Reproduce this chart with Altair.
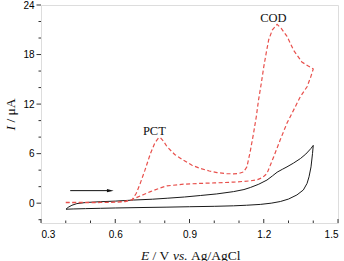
import altair as alt
import pandas as pd

# Blank electrode CV (solid black): forward scan then reverse scan
blank_fwd_E = [0.401, 0.41, 0.425, 0.445, 0.48, 0.54, 0.60, 0.674, 0.75, 0.81, 0.88, 0.944, 1.01, 1.078,
               1.12, 1.146, 1.18, 1.213, 1.235, 1.254, 1.275, 1.294, 1.32, 1.348, 1.37, 1.39, 1.40]
blank_fwd_I = [-0.73, -0.5, -0.25, -0.05, 0.08, 0.18, 0.25, 0.38, 0.48, 0.6, 0.75, 0.93, 1.12, 1.4,
               1.65, 1.9, 2.3, 2.8, 3.3, 3.75, 4.1, 4.4, 4.85, 5.4, 5.95, 6.6, 7.0]
blank_rev_E = [1.40, 1.397, 1.391, 1.383, 1.375, 1.36, 1.334, 1.30, 1.267, 1.23, 1.186, 1.13, 1.078,
               1.0, 0.9, 0.809, 0.7, 0.6, 0.54, 0.48, 0.43, 0.401]
blank_rev_I = [7.0, 6.0, 4.4, 3.2, 2.4, 1.6, 1.0, 0.5, 0.2, 0.0, -0.15, -0.25, -0.32,
               -0.38, -0.43, -0.48, -0.53, -0.58, -0.62, -0.66, -0.7, -0.73]

# PCT + COD CV (dashed red)
drug_fwd_E = [0.40, 0.45, 0.50, 0.55, 0.60, 0.64, 0.668, 0.685, 0.701, 0.72, 0.742, 0.76, 0.775, 0.782,
              0.795, 0.809, 0.84, 0.876, 0.91, 0.944, 0.98, 1.011, 1.05, 1.078, 1.10, 1.119, 1.132,
              1.145, 1.159, 1.17, 1.179, 1.19, 1.20, 1.21, 1.22, 1.235, 1.254, 1.27, 1.294, 1.321,
              1.354, 1.38, 1.40]
drug_fwd_I = [0.1, 0.1, 0.1, 0.1, 0.12, 0.18, 0.4, 1.2, 2.4, 4.0, 6.0, 7.3, 7.9, 7.95,
              7.5, 6.85, 5.9, 5.2, 4.6, 4.2, 3.9, 3.7, 3.58, 3.55, 3.6, 3.8, 4.4,
              6.2, 8.5, 10.5, 12.5, 14.5, 16.5, 18.2, 19.8, 21.0, 21.65, 21.2, 20.2, 18.5,
              17.1, 16.6, 16.25]
drug_rev_E = [1.40, 1.39, 1.375, 1.348, 1.321, 1.294, 1.267, 1.24, 1.213, 1.195, 1.175, 1.146, 1.078,
              1.0, 0.944, 0.876, 0.809, 0.782, 0.742, 0.715, 0.688, 0.661, 0.63, 0.60, 0.54, 0.47, 0.40]
drug_rev_I = [16.25, 15.3, 14.1, 12.9, 11.3, 9.7, 7.7, 5.6, 3.6, 3.1, 2.85, 2.7, 2.55,
              2.45, 2.4, 2.3, 2.1, 1.85, 1.4, 1.05, 0.7, 0.35, 0.2, 0.12, 0.08, 0.06, 0.05]

# Peak annotations
peak_names = ["PCT", "COD"]
peak_E = [0.758, 1.239]
peak_I = [8.25, 21.95]

# Scan direction arrow
arrow_E = [0.418, 0.593]
arrow_I = 1.52

# Axis ticks
x_major = [0.3, 0.6, 0.9, 1.2, 1.5]
x_minor = [0.4, 0.5, 0.7, 0.8, 1.0, 1.1, 1.3, 1.4]
y_major = [0, 6, 12, 18, 24]
y_minor = [-2, 2, 4, 8, 10, 14, 16, 20, 22]

X_DOMAIN = [0.3, 1.5]
Y_DOMAIN = [-2.4, 24]
W, H = 297, 218
FONT = "'Liberation Serif', 'Times New Roman', 'DejaVu Serif', serif"


def loop(E_f, I_f, E_r, I_r):
    E = E_f + E_r
    I = I_f + I_r
    return pd.DataFrame({"E": E, "I": I, "k": list(range(len(E)))})


blank = loop(blank_fwd_E, blank_fwd_I, blank_rev_E, blank_rev_I)
drug = loop(drug_fwd_E, drug_fwd_I, drug_rev_E, drug_rev_I)

xs = alt.Scale(domain=X_DOMAIN, nice=False, zero=False)
ys = alt.Scale(domain=Y_DOMAIN, nice=False, zero=False)

x_axis = alt.Axis(values=x_major, format=".1f", ticks=False, domain=False, grid=False,
                  labelPadding=6, title=None)
y_axis = alt.Axis(values=y_major, format="d", ticks=False, domain=False, grid=False,
                  labelPadding=7, title=None)

blank_line = alt.Chart(blank).mark_line(color="#1a1a1a", strokeWidth=1).encode(
    x=alt.X("E:Q", scale=xs, axis=x_axis),
    y=alt.Y("I:Q", scale=ys, axis=y_axis),
    order="k:Q",
)

drug_line = alt.Chart(drug).mark_line(color="#e8504c", strokeWidth=1.2, strokeDash=[4, 2.5]).encode(
    x=alt.X("E:Q", scale=xs),
    y=alt.Y("I:Q", scale=ys),
    order="k:Q",
)

arrow_df = pd.DataFrame({"E": [arrow_E[0]], "E2": [arrow_E[1] - 0.02], "I": [arrow_I]})
arrow_shaft = alt.Chart(arrow_df).mark_rule(color="#111", strokeWidth=1).encode(
    x=alt.X("E:Q", scale=xs), x2="E2:Q", y=alt.Y("I:Q", scale=ys)
)
arrow_head = alt.Chart(pd.DataFrame({"E": [arrow_E[1] - 0.013], "I": [arrow_I]})).mark_point(
    shape="M-1,-0.45L1,0L-1,0.45Z", size=45, filled=True, color="#111", opacity=1
).encode(x=alt.X("E:Q", scale=xs), y=alt.Y("I:Q", scale=ys))

labels = alt.Chart(pd.DataFrame({"name": peak_names, "E": peak_E, "I": peak_I})).mark_text(
    font=FONT, fontSize=12.5, color="#111", baseline="alphabetic", align="center"
).encode(x=alt.X("E:Q", scale=xs), y=alt.Y("I:Q", scale=ys), text="name:N")

# Tick marks: x ticks point into the plot, y ticks point outward
x_ticks_major = alt.Chart(pd.DataFrame({"v": x_major})).mark_rule(color="#333", strokeWidth=1).encode(
    x=alt.X("v:Q", scale=xs), y=alt.value(H), y2=alt.value(H - 4)
)
x_ticks_minor = alt.Chart(pd.DataFrame({"v": x_minor})).mark_rule(color="#333", strokeWidth=1).encode(
    x=alt.X("v:Q", scale=xs), y=alt.value(H), y2=alt.value(H - 2.5)
)
y_ticks_major = alt.Chart(pd.DataFrame({"v": y_major})).mark_rule(color="#333", strokeWidth=1).encode(
    y=alt.Y("v:Q", scale=ys), x=alt.value(0), x2=alt.value(-4.5)
)
y_ticks_minor = alt.Chart(pd.DataFrame({"v": y_minor})).mark_rule(color="#333", strokeWidth=1).encode(
    y=alt.Y("v:Q", scale=ys), x=alt.value(0), x2=alt.value(-2.5)
)

# Axis titles with italic symbols, built from text pieces
one = pd.DataFrame({"d": [0]})


def piece(text, x, y, italic=False, angle=0):
    return alt.Chart(one).mark_text(
        text=text, font=FONT, fontSize=13.5, fontStyle="italic" if italic else "normal",
        align="left", baseline="alphabetic", angle=angle, color="#111"
    ).encode(x=alt.value(x), y=alt.value(y))


XT_Y = 254.5
x_title = [
    piece("E", 100, XT_Y, italic=True),
    piece("/ V", 111.6, XT_Y),
    piece("vs.", 131.9, XT_Y, italic=True),
    piece("Ag/AgCl", 149.9, XT_Y),
]
YT_X = -26.5
y_title = [
    piece("I", YT_X, 125.5, italic=True, angle=270),
    piece("/ μA", YT_X, 117.6, angle=270),
]

chart = alt.layer(
    blank_line, drug_line, arrow_shaft, arrow_head, labels,
    x_ticks_major, x_ticks_minor, y_ticks_major, y_ticks_minor,
    *x_title, *y_title,
).properties(
    width=W, height=H,
    autosize=alt.AutoSizeParams(type="none"),
    padding={"left": 41, "top": 5, "right": 6, "bottom": 38},
).configure_view(
    stroke="#333", strokeWidth=1
).configure_axis(
    labelFont=FONT, labelFontSize=12, labelColor="#111"
).configure(background="white")

chart.save("out.html", embed_options={"renderer": "svg", "actions": False})
